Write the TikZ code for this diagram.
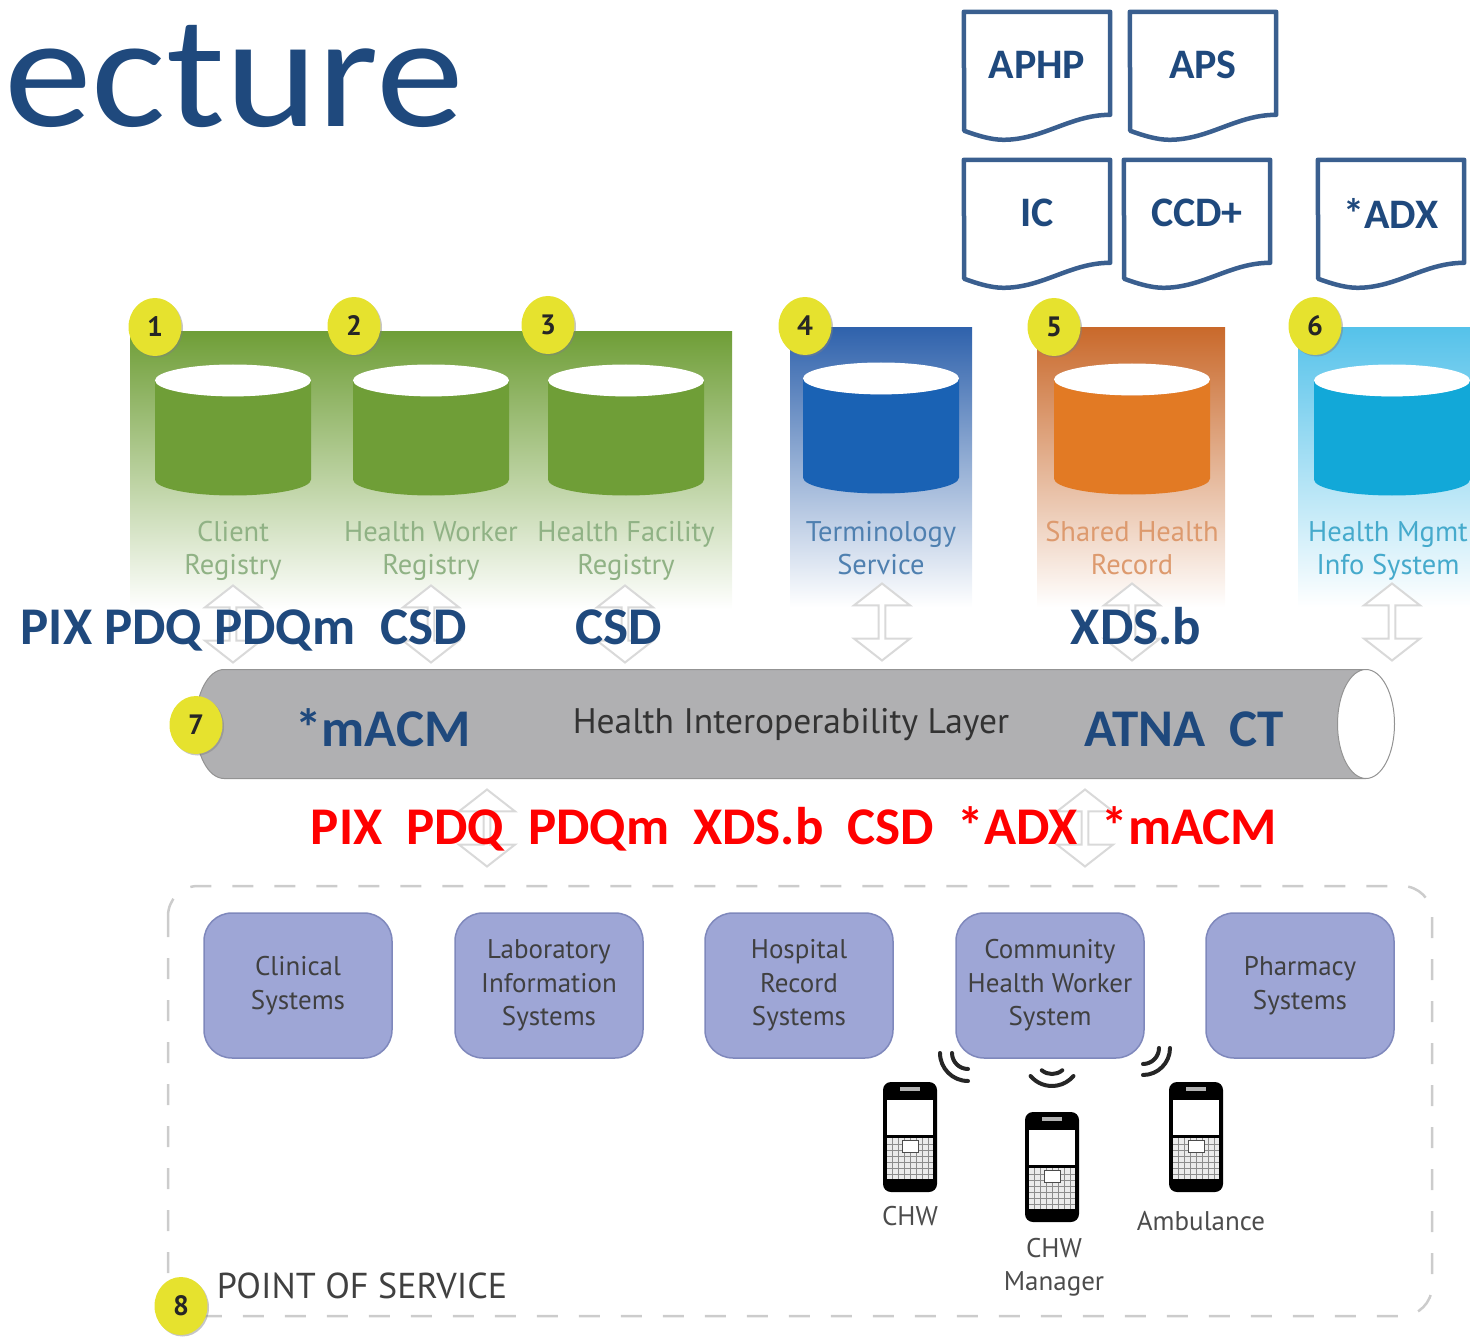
\documentclass[tikz,border=0pt]{standalone}
\usepackage{fontspec}
\setmainfont{PT Sans}
\newfontfamily\calibri{Carlito}
\usepackage{xcolor}
\usetikzlibrary{shapes,shapes.geometric,shapes.arrows,shadows}
\definecolor{navytext}{HTML}{1F497D}
\definecolor{docline}{HTML}{3A5F8F}
\definecolor{dbgreen}{HTML}{6F9E37}
\definecolor{dbblue}{HTML}{1A62B4}
\definecolor{dborange}{HTML}{E27A24}
\definecolor{dbcyan}{HTML}{12A8D8}
\definecolor{panelblue}{HTML}{2F62AC}
\definecolor{panelorange}{HTML}{C9692B}
\definecolor{panelcyan}{HTML}{55C2EA}
\definecolor{labgreen}{HTML}{90B285}
\definecolor{labblue}{HTML}{4F80B0}
\definecolor{laborange}{HTML}{DD9A6E}
\definecolor{labcyan}{HTML}{45AACC}
\definecolor{pospurple}{HTML}{9EA6D6}
\definecolor{posedge}{HTML}{7F88BC}
\definecolor{badgeyellow}{HTML}{E6E22E}
\definecolor{pipegrey}{HTML}{B0B0B2}
\tikzset{
title/.style = {anchor=base west, inner sep=0pt, text=navytext, xscale=1.1, transform shape, font=\calibri\fontsize{160}{160}\selectfont},
bold_l/.style = {anchor=base, inner sep=0pt, text=navytext, font=\calibri\bfseries\fontsize{53}{53}\selectfont},
bold_r/.style = {bold_l, text=red},
doc_n/.style = {minimum width=146, minimum height=106, inner sep=0pt, text=navytext, font=\calibri\bfseries\fontsize{42}{42}\selectfont},
doc_l/.style = {draw=docline, line width=4.5pt, line join=round},
panel/.style = {rectangle, minimum height=278, inner sep=0pt, anchor=north west, middle color=#1!50, top color=#1, bottom color=white},
db/.style = {cylinder, shape border rotate=90, aspect=0.29, anchor=shape center, cylinder uses custom fill, cylinder body fill=#1, cylinder end fill=white, minimum width=156, minimum height=131, inner xsep=55pt, inner ysep=0pt},
db_t/.style = {align=center, inner sep=0pt, text=#1, font=\fontsize{28.5}{33.5}\selectfont},
badge/.style = {ellipse, fill=badgeyellow, minimum width=53, minimum height=58, inner sep=0pt, text=black!85, font=\bfseries\fontsize{28}{28}\selectfont, drop shadow={shadow xshift=1.5pt, shadow yshift=-1.5pt, opacity=0.45}},
link/.style = {double arrow, shape border rotate=90, double arrow tip angle=104, minimum width=56, minimum height=77, inner xsep=0pt, inner ysep=12pt, draw=gray!30, line width=2pt, fill=white},
pos_n/.style = {rectangle, rounded corners=28pt, draw=posedge, line width=1.5pt, fill=pospurple, minimum width=188, minimum height=145, align=center, inner sep=0pt, text=black!75, font=\fontsize{27}{33.5}\selectfont},
pos_t/.style = {align=center, inner sep=0pt, text=black!70, font=\fontsize{27}{33.5}\selectfont},
wave/.style = {line width=4pt, line cap=round, black!85}
}
\newcommand{\docshape}[1]{
	\draw[doc_l] (#1.north west) -- (#1.north east) -- ++(0,103)
	  .. controls ++(-40,0) and ++(40,0) .. ++(-107,25)
	  .. controls ++(-13,0) and ++(11,4) .. ++(-39,-9) -- cycle;
}
\tikzset{
phone/.pic = {
	\fill[black, rounded corners=8pt] (-27,0) rectangle (27,110);
	\fill[white] (-23,18) rectangle (23,53);
	\fill[white!92!black] (-23,56) rectangle (23,97);
	\foreach \gx in {-18,-12,...,18} \draw[black!45, line width=0.8pt] (\gx,56) -- (\gx,97);
	\foreach \gy in {62,68,...,92} \draw[black!45, line width=0.8pt] (-23,\gy) -- (23,\gy);
	\draw[black!70, line width=1pt, fill=white] (-8,58) rectangle (8,70);
	\fill[white!70!black] (-10,5) rectangle (10,9);
}
}
\begin{document}
\begin{tikzpicture}[x=1pt,y=-1pt]
	\useasboundingbox (0,0) rectangle (1470,1337);
	\node [title] (ttl) at (4,127) {ecture};
	% documents
	\node [doc_n] (aphp) at (1037,65) {APHP};
	\node [doc_n] (aps) at (1203,65) {APS};
	\node [doc_n] (ic) at (1037,213) {IC};
	\node [doc_n] (ccd) at (1197,213) {CCD+};
	\node [doc_n] (adx) at (1391,213) {*ADX};
	\docshape{aphp}
	\docshape{aps}
	\docshape{ic}
	\docshape{ccd}
	\docshape{adx}
	% panels
	\node [panel=dbgreen, minimum width=602] (pgreen) at (130,331) {};
	\node [panel=panelblue, minimum width=182, minimum height=280] (pblue) at (790,327) {};
	\node [panel=panelorange, minimum width=188, minimum height=280] (porange) at (1037,327) {};
	\node [panel=panelcyan, minimum width=172, minimum height=280] (pcyan) at (1298,327) {};
	\node [db=dbgreen] (dbc) at (233,430) {};
	\node [db=dbgreen] (dbw) at (431,430) {};
	\node [db=dbgreen] (dbf) at (626,430) {};
	\node [db=dbblue] (dbt) at (881,428) {};
	\node [db=dborange] (dbs) at (1132,429) {};
	\node [db=dbcyan] (dbh) at (1392,430) {};
	\node [db_t=labgreen] (tc) at (233,551) {Client\\Registry};
	\node [db_t=labgreen] (tw) at (431,551) {Health Worker\\Registry};
	\node [db_t=labgreen] (tf) at (626,551) {Health Facility\\Registry};
	\node [db_t=labblue] (tt) at (881,548) {Terminology\\Service};
	\node [db_t=laborange] (ts) at (1132,548) {Shared Health\\Record};
	\node [db_t=labcyan] (th) at (1388,551) {Health Mgmt\\Info System};
	% links
	\node [link] (l1) at (233,624) {};
	\node [link] (l2) at (431,624) {};
	\node [link] (l3) at (625,624) {};
	\node [link] (l4) at (882,622) {};
	\node [link] (l5) at (1132,622) {};
	\node [link] (l6) at (1392,622) {};
	\node [link] (l7) at (487,828) {};
	\node [link] (l8) at (1085,828) {};
	% exchange layer
	\node [cylinder, aspect=0.75, anchor=shape center, cylinder uses custom fill, cylinder body fill=pipegrey, cylinder end fill=white, draw=gray!85, line width=1pt, minimum width=109, minimum height=1199, inner xsep=0pt, inner ysep=38pt] (hil) at (795,724) {};
	\node [inner sep=0pt, text=black!80, font=\fontsize{35.5}{35.5}\selectfont] (hilt) at (791,725) {Health Interoperability Layer};
	\node [bold_l] (t1) at (188,644) {PIX PDQ PDQm};
	\node [bold_l] (t2) at (424,644) {CSD};
	\node [bold_l] (t3) at (619,644) {CSD};
	\node [bold_l] (t4) at (1136,644) {XDS.b};
	\node [bold_l] (t5) at (383,746) {*mACM};
	\node [bold_l] (t6) at (1184,746) {ATNA~~CT};
	\node [bold_r] (t7) at (794,844) {PIX~~PDQ~~PDQm~~XDS.b~~CSD~~*ADX~~*mACM};
	% point of service
	\draw [gray!40, line width=2.5pt, rounded corners=30pt, dash pattern=on 21pt off 21pt] (168,886) rectangle (1432,1316);
	\node [pos_n] (clin) at (298,985.5) {Clinical\\Systems};
	\node [pos_n] (lab) at (549,985.5) {Laboratory\\Information\\Systems};
	\node [pos_n] (hosp) at (799,985.5) {Hospital\\Record\\Systems};
	\node [pos_n] (chws) at (1050,985.5) {Community\\Health Worker\\System};
	\node [pos_n] (pharm) at (1300,985.5) {Pharmacy\\Systems};
	\draw[wave] (968,1053) ++(180:28) arc (180:90:28);
	\draw[wave] (968,1053) ++(180:16) arc (180:90:16);
	\draw[wave] (1052,1058) ++(140:28) arc (140:40:28);
	\draw[wave] (1052,1058) ++(130:16) arc (130:50:16);
	\draw[wave] (1143,1048) ++(0:27) arc (0:90:27);
	\draw[wave] (1143,1048) ++(0:16) arc (0:90:16);
	\pic (ph1) at (910,1082) {phone};
	\pic (ph2) at (1052,1112) {phone};
	\pic (ph3) at (1196,1082) {phone};
	\node [pos_t] (chw) at (910,1216) {CHW};
	\node [pos_t] (mgr) at (1054,1267) {CHW\\Manager};
	\node [pos_t] (amb) at (1201,1221) {Ambulance};
	\node [inner sep=0pt, text=black!75, font=\fontsize{36}{36}\selectfont] (post) at (362,1286) {POINT OF SERVICE};
	% badges
	\node [badge] (b1) at (155,327) {1};
	\node [badge] (b2) at (354,326) {2};
	\node [badge] (b3) at (548,325) {3};
	\node [badge] (b4) at (805,326) {4};
	\node [badge] (b5) at (1054,327) {5};
	\node [badge] (b6) at (1315,326) {6};
	\node [badge] (b7) at (196,725) {7};
	\node [badge] (b8) at (181,1306) {8};
\end{tikzpicture}
\end{document}
